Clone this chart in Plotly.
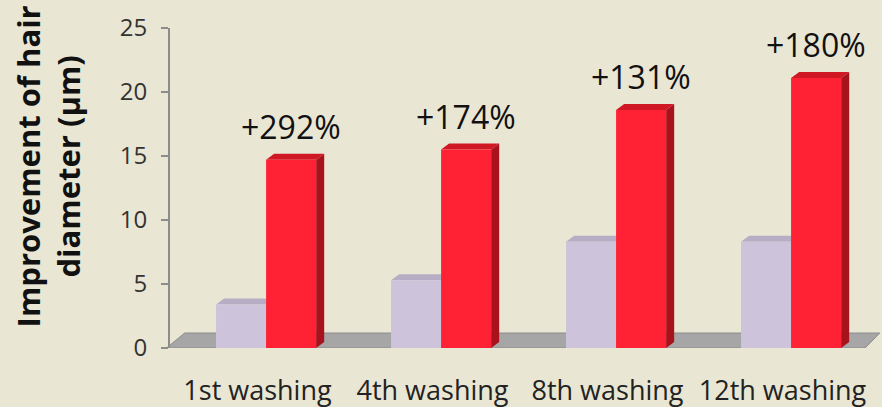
import plotly.graph_objects as go

categories = ["1st washing", "4th washing", "8th washing", "12th washing"]
control = [3.4, 5.3, 8.3, 8.3]
treated = [14.7, 15.5, 18.6, 21.1]
pct_labels = ["+292%", "+174%", "+131%", "+180%"]
y_ticks = [0, 5, 10, 15, 20, 25]
y_title = "<b>Improvement of hair<br>diameter (μm)</b>"

BG = "#E9E6D4"
LAV = "#CDC4DC"
LAV_SIDE = "#A59CB5"
LAV_TOP = "#B7AEC6"
RED = "#FF2234"
RED_SIDE = "#A8121C"
RED_TOP = "#D01824"

bw = 0.286      # bar width in category units
shift = 0.049   # group shift (3D perspective)
dx = 0.046      # depth offset x (category units)
dy = 0.47       # depth offset y (value units)

xs = list(range(len(categories)))

fig = go.Figure()
fig.add_trace(go.Bar(
    x=xs, y=control, width=bw, offset=-bw + shift,
    marker=dict(color=LAV, line=dict(width=0)), name="Control",
))
fig.add_trace(go.Bar(
    x=xs, y=treated, width=bw, offset=shift,
    marker=dict(color=RED, line=dict(width=0)), name="Treated",
))

shapes = []
# floor
shapes.append(dict(type="path", xref="paper", yref="y",
                   path="M -0.005,0 L 0.993,0 L 1.014,1.17 L 0.021,1.17 Z",
                   fillcolor="#A6A6A6", line=dict(color="#8C8C8C", width=1), layer="below"))
# 3D faces of bars, computed from the data
for i in xs:
    for vals, left_off, side_c, top_c in ((control, -bw + shift, LAV_SIDE, LAV_TOP),
                                           (treated, shift, RED_SIDE, RED_TOP)):
        v = vals[i]
        xl = i + left_off
        xr = xl + bw
        shapes.append(dict(type="path", xref="x", yref="y", layer="below",
                           path=f"M {xr},0 L {xr+dx},{dy} L {xr+dx},{v+dy} L {xr},{v} Z",
                           fillcolor=side_c, line=dict(width=0)))
        shapes.append(dict(type="path", xref="x", yref="y", layer="below",
                           path=f"M {xl},{v} L {xl+dx},{v+dy} L {xr+dx},{v+dy} L {xr},{v} Z",
                           fillcolor=top_c, line=dict(width=0)))

annotations = []
for i in xs:
    annotations.append(dict(x=i + shift + bw / 2, y=treated[i], xref="x", yref="y",
                            text=pct_labels[i], showarrow=False, yanchor="bottom",
                            yshift=10, font=dict(size=32, color="#111111",
                                                 family="Open Sans")))
# y-axis title
annotations.append(dict(x=-0.175, y=0.566, xref="paper", yref="paper",
                        text=y_title, textangle=-90, showarrow=False,
                        xanchor="center", yanchor="middle",
                        font=dict(size=31, color="#111111", family="Open Sans")))

fig.update_layout(
    width=882, height=407,
    margin=dict(l=170, r=12, t=28, b=59, autoexpand=False),
    paper_bgcolor=BG, plot_bgcolor=BG,
    showlegend=False,
    barmode="overlay",
    shapes=shapes,
    annotations=annotations,
    font=dict(family="Open Sans", color="#333333"),
    xaxis=dict(
        tickmode="array", tickvals=xs, ticktext=categories,
        range=[-0.5, 3.5], showgrid=False, zeroline=False, showline=False,
        ticks="", tickfont=dict(size=27, color="#222222"),
        ticklabelstandoff=24, automargin=False,
    ),
    yaxis=dict(
        range=[0, 25], tickvals=y_ticks, showgrid=False, zeroline=False,
        showline=True, linecolor="#8C8C8C", linewidth=2,
        ticks="outside", ticklen=7, tickcolor="#8C8C8C", tickwidth=2,
        tickfont=dict(size=24, color="#333333"), automargin=False,
        ticklabelstandoff=9,
    ),
)

fig.write_html("out.html", config={"displayModeBar": False},
               post_script="document.body.style.margin='0';")
